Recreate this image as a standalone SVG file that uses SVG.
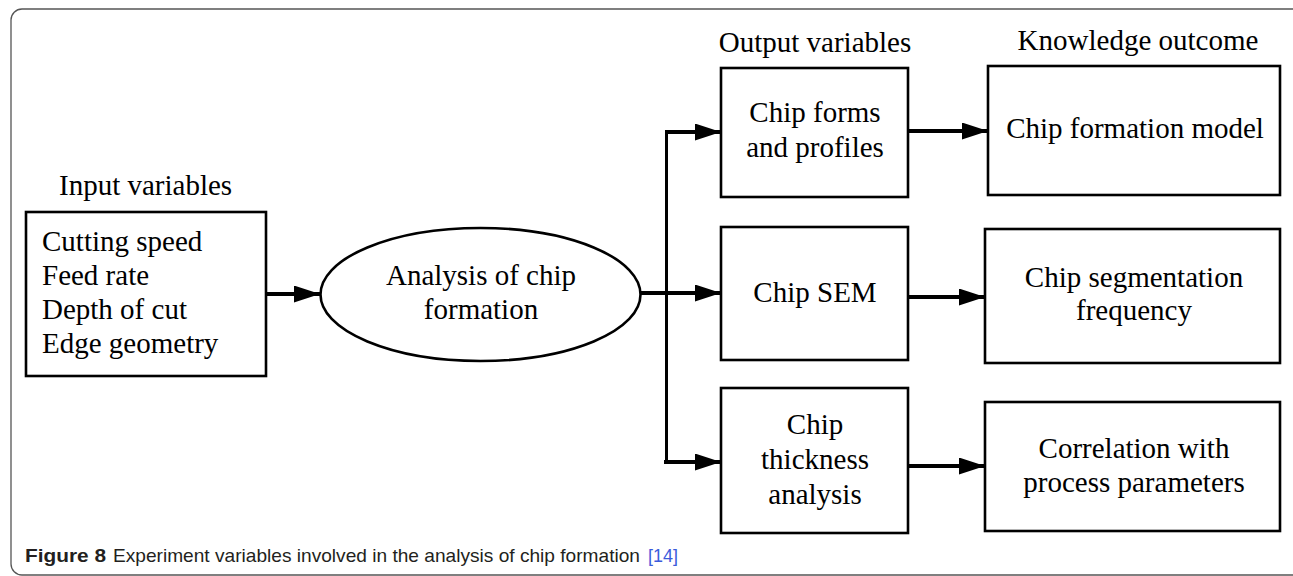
<svg xmlns="http://www.w3.org/2000/svg" width="1293" height="576" viewBox="0 0 1293 576">
  <style>
    .box { fill: #fff; stroke: #000; stroke-width: 2.6; }
    .t { font-family: "Liberation Serif", "Times New Roman", serif; font-size: 29px; fill: #000; }
    .c { text-anchor: middle; }
    .conn { stroke: #000; stroke-width: 4; fill: none; }
    .vline { stroke: #000; stroke-width: 3; fill: none; }
    .cap { font-family: "Liberation Sans", Arial, sans-serif; font-size: 19px; fill: #231f20; }
    .ref { fill: #3b5bdb; }
  </style>
  <defs>
    <marker id="arr" markerUnits="userSpaceOnUse" markerWidth="27" markerHeight="18" refX="26" refY="8.5" orient="auto">
      <path d="M0,0 L26,8.5 L0,17 Z" fill="#000"/>
    </marker>
  </defs>
  <rect x="11" y="9" width="1300" height="566" rx="11" ry="11" fill="none" stroke="#555" stroke-width="1.3"/>

  <text class="t" x="59" y="195">Input variables</text>
  <text class="t c" x="815" y="52">Output variables</text>
  <text class="t c" x="1138" y="50">Knowledge outcome</text>

  <g id="input">
    <rect class="box" x="26" y="212" width="240" height="164"/>
    <text class="t" x="42" y="251">Cutting speed</text>
    <text class="t" x="42" y="285">Feed rate</text>
    <text class="t" x="42" y="319">Depth of cut</text>
    <text class="t" x="42" y="353">Edge geometry</text>
  </g>

  <g id="analysis">
    <ellipse class="box" cx="480.5" cy="294.5" rx="160" ry="66.5"/>
    <text class="t c" x="481" y="285">Analysis of chip</text>
    <text class="t c" x="481" y="319">formation</text>
  </g>

  <g id="out1">
    <rect class="box" x="721" y="68" width="187" height="129"/>
    <text class="t c" x="815" y="122">Chip forms</text>
    <text class="t c" x="815" y="157">and profiles</text>
  </g>
  <g id="out2">
    <rect class="box" x="721" y="227" width="187" height="133"/>
    <text class="t c" x="815" y="302">Chip SEM</text>
  </g>
  <g id="out3">
    <rect class="box" x="721" y="388" width="187" height="145"/>
    <text class="t c" x="815" y="434">Chip</text>
    <text class="t c" x="815" y="469">thickness</text>
    <text class="t c" x="815" y="504">analysis</text>
  </g>

  <g id="know1">
    <rect class="box" x="988" y="66" width="292" height="129"/>
    <text class="t c" x="1135" y="138">Chip formation model</text>
  </g>
  <g id="know2">
    <rect class="box" x="985" y="229" width="295" height="134"/>
    <text class="t c" x="1134" y="287">Chip segmentation</text>
    <text class="t c" x="1134" y="320">frequency</text>
  </g>
  <g id="know3">
    <rect class="box" x="985" y="402" width="295" height="129"/>
    <text class="t c" x="1134" y="458">Correlation with</text>
    <text class="t c" x="1134" y="492">process parameters</text>
  </g>

  <g id="connectors">
    <line class="conn" x1="266" y1="294" x2="320" y2="294" marker-end="url(#arr)"/>
    <line class="conn" x1="641" y1="293" x2="668" y2="293"/>
    <line class="vline" x1="666.5" y1="132" x2="666.5" y2="462"/>
    <line class="conn" x1="665" y1="132" x2="721" y2="132" marker-end="url(#arr)"/>
    <line class="conn" x1="665" y1="293" x2="721" y2="293" marker-end="url(#arr)"/>
    <line class="conn" x1="664" y1="462" x2="721" y2="462" marker-end="url(#arr)"/>
    <line class="conn" x1="908" y1="131" x2="988" y2="131" marker-end="url(#arr)"/>
    <line class="conn" x1="907" y1="297" x2="985" y2="297" marker-end="url(#arr)"/>
    <line class="conn" x1="907" y1="466" x2="985" y2="466" marker-end="url(#arr)"/>
  </g>

  <g id="caption">
    <text class="cap" x="25" y="562" font-weight="bold" textLength="81" lengthAdjust="spacingAndGlyphs">Figure 8</text>
    <text class="cap" x="113" y="562" textLength="527" lengthAdjust="spacingAndGlyphs">Experiment variables involved in the analysis of chip formation</text>
    <text class="cap ref" x="648" y="562" textLength="30" lengthAdjust="spacingAndGlyphs">[14]</text>
  </g>
</svg>
